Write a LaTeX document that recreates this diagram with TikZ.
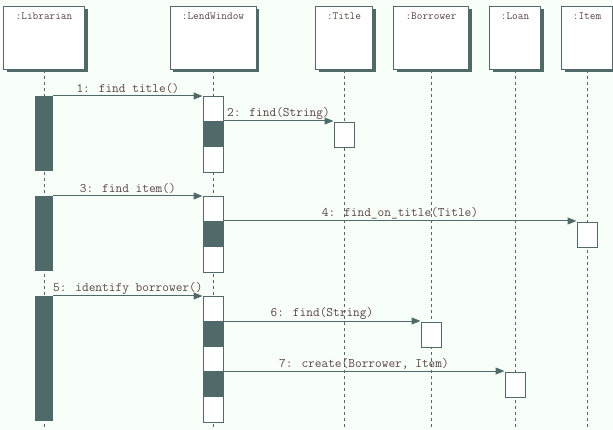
\documentclass[tikz,border=0pt]{standalone}
\usepackage{tikz}
\usetikzlibrary{arrows.meta,shadows}
\definecolor{slate}{RGB}{80,106,106}
\definecolor{paper}{RGB}{248,255,248}
\definecolor{ink}{RGB}{92,68,68}

\begin{document}
\begin{tikzpicture}[x=1pt, y=-1pt,
  obj/.style={draw=slate, line width=1pt, fill=white, anchor=north, inner xsep=0pt, inner ysep=0pt,
    text height=13pt, text depth=50pt, text=ink, font=\fontsize{11}{13}\ttfamily,
    general shadow={fill=slate, shadow xshift=3pt, shadow yshift=-3pt}},
  life/.style={draw=slate, line width=1pt, dash pattern=on 3pt off 3pt},
  act/.style={draw=slate, line width=1pt, fill=white, anchor=north, inner sep=0pt,
    minimum width=20pt, minimum height=#1},
  busy/.style={fill=slate, anchor=north, inner sep=0pt, minimum width=18pt, minimum height=#1},
  msg/.style={draw=slate, line width=1pt, -{Triangle[length=9pt,width=7pt]}},
  lbl/.style={above, inner sep=1.5pt, text=ink, font=\fontsize{13}{15}\ttfamily}]

\fill[paper] (0,0) rectangle (613,430);
\useasboundingbox (0,0) rectangle (613,430);
\coordinate (bottom) at (0,430);

% objects
\node[obj, minimum width=81pt] (lib) at (44,6) {:Librarian};
\node[obj, minimum width=86pt] (lw) at (213,6) {:LendWindow};
\node[obj, minimum width=57pt] (tit) at (344,6) {:Title};
\node[obj, minimum width=75pt] (bor) at (431,6) {:Borrower};
\node[obj, minimum width=51pt] (loan) at (515,6) {:Loan};
\node[obj, minimum width=51pt] (item) at (587,6) {:Item};

% lifelines
\foreach \o in {lib,lw,tit,bor,loan,item}
  \draw[life] (\o.south) -- (\o.south |- bottom);

% activations
\node[busy=75pt] (lb1) at (44,96) {};
\node[busy=75pt] (lb2) at (44,196) {};
\node[busy=125pt] (lb3) at (44,296) {};
\node[act=76pt] (lw1) at (213,96) {};
\node[act=25pt, fill=slate] (lw1a) at (213,121) {};
\node[act=76pt] (lw2) at (213,196) {};
\node[act=25pt, fill=slate] (lw2a) at (213,221) {};
\node[act=126pt] (lw3) at (213,296) {};
\node[act=25pt, fill=slate] (lw3a) at (213,321) {};
\node[act=25pt, fill=slate] (lw3b) at (213,371) {};
\node[act=25pt] (tit1) at (344,122) {};
\node[act=25pt] (item1) at (587,222) {};
\node[act=25pt] (bor1) at (431,322) {};
\node[act=25pt] (loan1) at (515,372) {};

% messages
\draw[msg] (lb1.north east) -- node[lbl]{1: find title()} (lw1.north west);
\draw[msg] (lw1a.north east) -- node[lbl]{2: find(String)} (lw1a.north east -| tit1.west);
\draw[msg] (lb2.north east) -- node[lbl]{3: find item()} (lw2.north west);
\draw[msg] (lw2a.north east) -- node[lbl]{4: find\_on\_title(Title)} (lw2a.north east -| item1.west);
\draw[msg] (lb3.north east) -- node[lbl]{5: identify borrower()} (lw3.north west);
\draw[msg] (lw3a.north east) -- node[lbl]{6: find(String)} (lw3a.north east -| bor1.west);
\draw[msg] (lw3b.north east) -- node[lbl]{7: create(Borrower, Item)} (lw3b.north east -| loan1.west);
\end{tikzpicture}
\end{document}
